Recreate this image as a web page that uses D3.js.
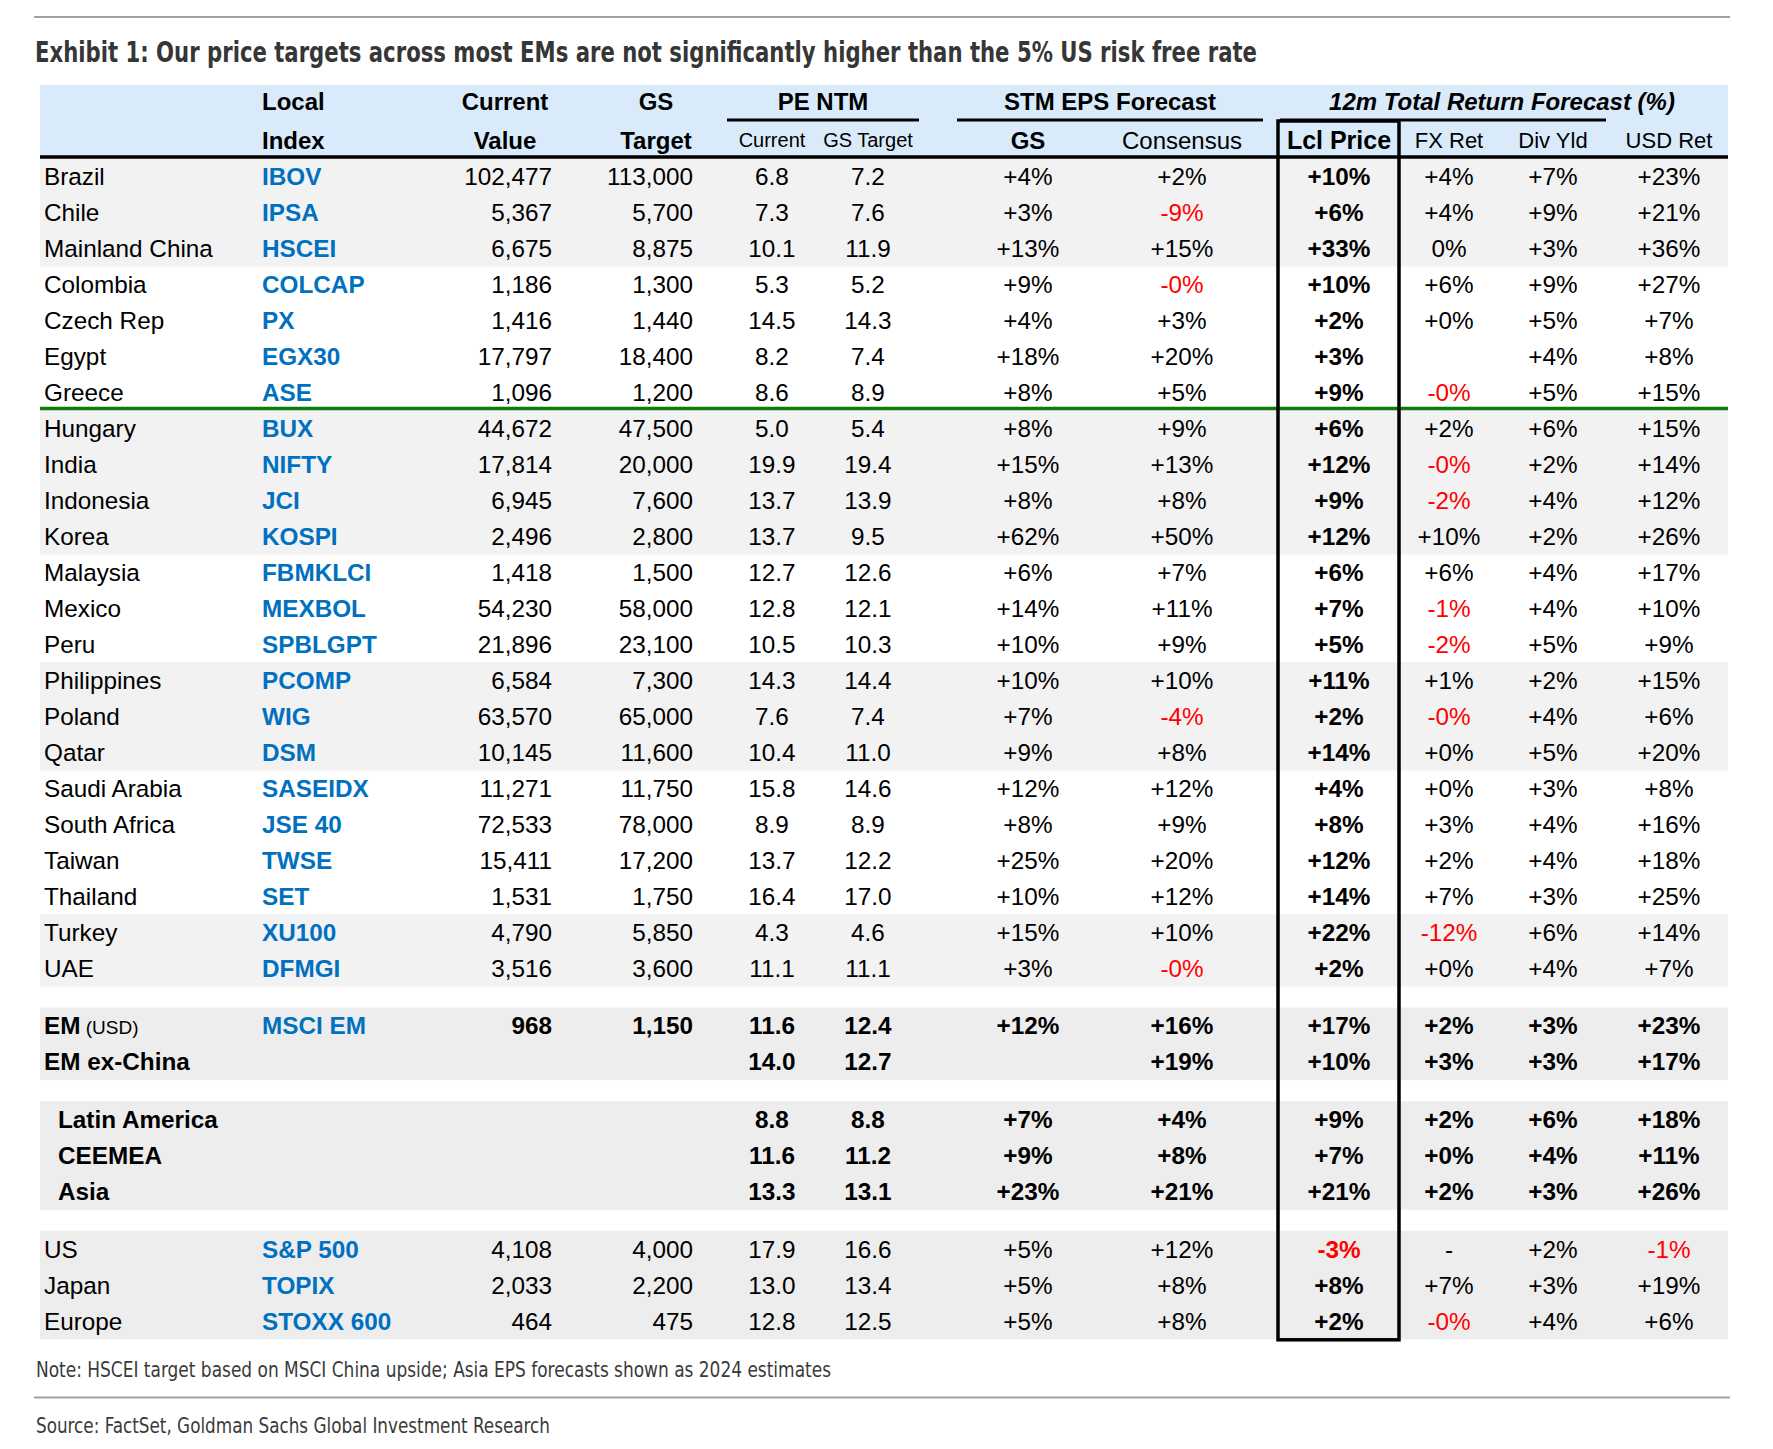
<!DOCTYPE html>
<html><head><meta charset="utf-8">
<script src="https://cdn.jsdelivr.net/npm/d3@7"></script>
<style>
body{margin:0;background:#fff}
svg text{font-family:"Liberation Sans",Arial,"Helvetica",sans-serif;fill:#000}
.cond{font-family:"Liberation Sans Narrow","Arial Narrow","DejaVu Sans Condensed","Liberation Sans",sans-serif !important}
</style>
</head><body>
<svg id="c" width="1773" height="1449"></svg>
<script>
// ---------- DATA ----------
const titleText = "Exhibit 1: Our price targets across most EMs are not significantly higher than the 5% US risk free rate";
const noteText = "Note: HSCEI target based on MSCI China upside; Asia EPS forecasts shown as 2024 estimates";
const sourceText = "Source: FactSet, Goldman Sachs Global Investment Research";

const countries = ["Brazil","Chile","Mainland China","Colombia","Czech Rep","Egypt","Greece","Hungary","India","Indonesia","Korea","Malaysia","Mexico","Peru","Philippines","Poland","Qatar","Saudi Arabia","South Africa","Taiwan","Thailand","Turkey","UAE"];
const indices = ["IBOV","IPSA","HSCEI","COLCAP","PX","EGX30","ASE","BUX","NIFTY","JCI","KOSPI","FBMKLCI","MEXBOL","SPBLGPT","PCOMP","WIG","DSM","SASEIDX","JSE 40","TWSE","SET","XU100","DFMGI"];
const currentValue = ["102,477","5,367","6,675","1,186","1,416","17,797","1,096","44,672","17,814","6,945","2,496","1,418","54,230","21,896","6,584","63,570","10,145","11,271","72,533","15,411","1,531","4,790","3,516"];
const gsTarget = ["113,000","5,700","8,875","1,300","1,440","18,400","1,200","47,500","20,000","7,600","2,800","1,500","58,000","23,100","7,300","65,000","11,600","11,750","78,000","17,200","1,750","5,850","3,600"];
const peCurrent = ["6.8","7.3","10.1","5.3","14.5","8.2","8.6","5.0","19.9","13.7","13.7","12.7","12.8","10.5","14.3","7.6","10.4","15.8","8.9","13.7","16.4","4.3","11.1"];
const peTarget = ["7.2","7.6","11.9","5.2","14.3","7.4","8.9","5.4","19.4","13.9","9.5","12.6","12.1","10.3","14.4","7.4","11.0","14.6","8.9","12.2","17.0","4.6","11.1"];
const epsGS = ["+4%","+3%","+13%","+9%","+4%","+18%","+8%","+8%","+15%","+8%","+62%","+6%","+14%","+10%","+10%","+7%","+9%","+12%","+8%","+25%","+10%","+15%","+3%"];
const epsCons = ["+2%","-9%","+15%","-0%","+3%","+20%","+5%","+9%","+13%","+8%","+50%","+7%","+11%","+9%","+10%","-4%","+8%","+12%","+9%","+20%","+12%","+10%","-0%"];
const lclPrice = ["+10%","+6%","+33%","+10%","+2%","+3%","+9%","+6%","+12%","+9%","+12%","+6%","+7%","+5%","+11%","+2%","+14%","+4%","+8%","+12%","+14%","+22%","+2%"];
const fxRet = ["+4%","+4%","0%","+6%","+0%","","-0%","+2%","-0%","-2%","+10%","+6%","-1%","-2%","+1%","-0%","+0%","+0%","+3%","+2%","+7%","-12%","+0%"];
const divYld = ["+7%","+9%","+3%","+9%","+5%","+4%","+5%","+6%","+2%","+4%","+2%","+4%","+4%","+5%","+2%","+4%","+5%","+3%","+4%","+4%","+3%","+6%","+4%"];
const usdRet = ["+23%","+21%","+36%","+27%","+7%","+8%","+15%","+15%","+14%","+12%","+26%","+17%","+10%","+9%","+15%","+6%","+20%","+8%","+16%","+18%","+25%","+14%","+7%"];
// alternating shading groups of countries (row counts)
const bandGroups = [3,4,4,3,3,4,2];

// summary blocks
const emNames = ["EM","EM ex-China"];
const emIndex = ["MSCI EM",""];
const emCur = ["968",""];
const emTgt = ["1,150",""];
const emPeC = ["11.6","14.0"];
const emPeT = ["12.4","12.7"];
const emEpsGS = ["+12%",""];
const emEpsCons = ["+16%","+19%"];
const emLcl = ["+17%","+10%"];
const emFx = ["+2%","+3%"];
const emDiv = ["+3%","+3%"];
const emUsd = ["+23%","+17%"];

const regNames = ["Latin America","CEEMEA","Asia"];
const regPeC = ["8.8","11.6","13.3"];
const regPeT = ["8.8","11.2","13.1"];
const regEpsGS = ["+7%","+9%","+23%"];
const regEpsCons = ["+4%","+8%","+21%"];
const regLcl = ["+9%","+7%","+21%"];
const regFx = ["+2%","+0%","+2%"];
const regDiv = ["+6%","+4%","+3%"];
const regUsd = ["+18%","+11%","+26%"];

const dmNames = ["US","Japan","Europe"];
const dmIndex = ["S&P 500","TOPIX","STOXX 600"];
const dmCur = ["4,108","2,033","464"];
const dmTgt = ["4,000","2,200","475"];
const dmPeC = ["17.9","13.0","12.8"];
const dmPeT = ["16.6","13.4","12.5"];
const dmEpsGS = ["+5%","+5%","+5%"];
const dmEpsCons = ["+12%","+8%","+8%"];
const dmLcl = ["-3%","+8%","+2%"];
const dmFx = ["-","+7%","-0%"];
const dmDiv = ["+2%","+3%","+4%"];
const dmUsd = ["-1%","+19%","+6%"];

const colKeys = ["name","idx","cur","tgt","peC","peT","epsGS","epsCons","lcl","fx","div","usd"];

// ---------- LAYOUT ----------
const svg = d3.select("#c");
const xCol = d3.scaleOrdinal().domain(colKeys).range([44,262,552,693,772,868,1028,1182,1339,1449,1553,1669]);
const anchorCol = d3.scaleOrdinal().domain(colKeys).range(["start","start","end","end","middle","middle","middle","middle","middle","middle","middle","middle"]);
const y = d3.scaleLinear().domain([0,1]).range([176,212]);   // row slot -> row centre
const rowH = y(1)-y(0);
const tableL = 40, tableR = 1728;
const BLUE = "#0070c0", RED = "#ff0000";

// build row records
const rows = [];
let slot = 0, g = 0, gi = 0;
countries.forEach((c,i)=>{
  rows.push({slot:i, shade: g%2===0 ? "#f2f2f2" : null, bold:false, indent:0,
    vals:{name:c, idx:indices[i], cur:currentValue[i], tgt:gsTarget[i], peC:peCurrent[i], peT:peTarget[i],
      epsGS:epsGS[i], epsCons:epsCons[i], lcl:lclPrice[i], fx:fxRet[i], div:divYld[i], usd:usdRet[i]}});
  gi++; if(gi===bandGroups[g]){g++;gi=0;}
});
slot = countries.length - 1 + 1.6;
emNames.forEach((n,i)=>{
  rows.push({slot:slot+i, shade:"#ededed", bold:true, indent:0, em:i===0,
    vals:{name:n, idx:emIndex[i], cur:emCur[i], tgt:emTgt[i], peC:emPeC[i], peT:emPeT[i], epsGS:emEpsGS[i], epsCons:emEpsCons[i], lcl:emLcl[i], fx:emFx[i], div:emDiv[i], usd:emUsd[i]}});
});
slot += emNames.length - 1 + 1.6;
regNames.forEach((n,i)=>{
  rows.push({slot:slot+i, shade:"#ededed", bold:true, indent:14,
    vals:{name:n, idx:"", cur:"", tgt:"", peC:regPeC[i], peT:regPeT[i], epsGS:regEpsGS[i], epsCons:regEpsCons[i], lcl:regLcl[i], fx:regFx[i], div:regDiv[i], usd:regUsd[i]}});
});
slot += regNames.length - 1 + 1.6;
dmNames.forEach((n,i)=>{
  rows.push({slot:slot+i, shade:"#ededed", bold:false, indent:0,
    vals:{name:n, idx:dmIndex[i], cur:dmCur[i], tgt:dmTgt[i], peC:dmPeC[i], peT:dmPeT[i], epsGS:dmEpsGS[i], epsCons:dmEpsCons[i], lcl:dmLcl[i], fx:dmFx[i], div:dmDiv[i], usd:dmUsd[i]}});
});

// ---------- DRAW ----------
svg.append("line").attr("x1",34).attr("x2",1730).attr("y1",17).attr("y2",17).attr("stroke","#a0a0a0").attr("stroke-width",2);
svg.append("text").attr("class","cond").attr("x",35).attr("y",62).attr("font-size",29).attr("font-weight","bold")
  .style("fill","#363636").attr("textLength",1222).attr("lengthAdjust","spacingAndGlyphs").text(titleText);

svg.append("rect").attr("x",tableL).attr("y",85).attr("width",tableR-tableL).attr("height",72).attr("fill","#d9ebfb");

svg.selectAll("rect.band").data(rows.filter(r=>r.shade)).join("rect").attr("class","band")
  .attr("x",tableL).attr("width",tableR-tableL)
  .attr("y",r=>y(r.slot)-rowH/2).attr("height",rowH+0.6).attr("fill",r=>r.shade);

const h1 = [
  {t:"Local",x:262,a:"start"},{t:"Current",x:505,a:"middle"},{t:"GS",x:656,a:"middle"},
  {t:"PE NTM",x:823,a:"middle"},{t:"STM EPS Forecast",x:1110,a:"middle"},{t:"12m Total Return Forecast (%)",x:1502,a:"middle",it:true}
];
svg.selectAll("text.h1").data(h1).join("text").attr("class","h1")
  .attr("x",d=>d.x).attr("y",101).attr("dy","0.36em").attr("text-anchor",d=>d.a)
  .attr("font-size",24).attr("font-weight","bold").attr("font-style",d=>d.it?"italic":"normal").text(d=>d.t);
const h2 = [
  {t:"Index",x:262,a:"start",b:1,s:24},{t:"Value",x:505,a:"middle",b:1,s:24},{t:"Target",x:656,a:"middle",b:1,s:24},
  {t:"Current",x:xCol("peC"),a:"middle",b:0,s:20},{t:"GS Target",x:xCol("peT"),a:"middle",b:0,s:20},
  {t:"GS",x:xCol("epsGS"),a:"middle",b:1,s:24},{t:"Consensus",x:xCol("epsCons"),a:"middle",b:0,s:24},
  {t:"Lcl Price",x:xCol("lcl"),a:"middle",b:1,s:25},{t:"FX Ret",x:xCol("fx"),a:"middle",b:0,s:22},
  {t:"Div Yld",x:xCol("div"),a:"middle",b:0,s:22},{t:"USD Ret",x:xCol("usd"),a:"middle",b:0,s:22}
];
svg.selectAll("text.h2").data(h2).join("text").attr("class","h2")
  .attr("x",d=>d.x).attr("y",140).attr("dy","0.36em").attr("text-anchor",d=>d.a)
  .attr("font-size",d=>d.s).attr("font-weight",d=>d.b?"bold":"normal").text(d=>d.t);

const ul = [[727,919],[957,1263],[1280,1606]];
svg.selectAll("line.ul").data(ul).join("line").attr("class","ul")
  .attr("x1",d=>d[0]).attr("x2",d=>d[1]).attr("y1",120).attr("y2",120).attr("stroke","#000").attr("stroke-width",3);

svg.append("line").attr("x1",tableL).attr("x2",tableR).attr("y1",157).attr("y2",157).attr("stroke","#000").attr("stroke-width",3.5);
svg.append("line").attr("x1",tableL).attr("x2",tableR).attr("y1",y(6.5)-1.5).attr("y2",y(6.5)-1.5).attr("stroke","#0a7d0a").attr("stroke-width",3.5);

const cells = [];
rows.forEach(r=>{
  colKeys.forEach(k=>{
    const v = r.vals[k];
    if(v===undefined || v==="") return;
    cells.push({r, k, v});
  });
});
svg.selectAll("text.cell").data(cells).join("text").attr("class","cell")
  .attr("x",d=> xCol(d.k) + (d.k==="name" ? d.r.indent : 0))
  .attr("y",d=>y(d.r.slot)).attr("dy","0.36em")
  .attr("text-anchor",d=>anchorCol(d.k))
  .attr("font-size",24.3)
  .attr("font-weight",d=> (d.r.bold || d.k==="lcl" || d.k==="idx") ? "bold" : "normal")
  .style("fill",d=> d.k==="idx" ? BLUE : (d.v.length>1 && d.v[0]==="-" ? RED : "#000"))
  .each(function(d){
    const t = d3.select(this);
    if(d.k==="name" && d.r.em){
      t.append("tspan").text(d.v);
      t.append("tspan").attr("font-weight","normal").attr("font-size",19).text(" (USD)");
    } else t.text(d.v);
  });

const boxBottom = y(rows[rows.length-1].slot)+rowH/2;
svg.append("rect").attr("x",1278).attr("y",121).attr("width",121).attr("height",boxBottom-121+1)
  .attr("fill","none").attr("stroke","#000").attr("stroke-width",3.5);

svg.append("text").attr("class","cond").attr("x",36).attr("y",1377).attr("font-size",22)
  .style("fill","#3a3a3a").attr("textLength",795).attr("lengthAdjust","spacingAndGlyphs").text(noteText);
svg.append("line").attr("x1",34).attr("x2",1730).attr("y1",1397.5).attr("y2",1397.5).attr("stroke","#a0a0a0").attr("stroke-width",2);
svg.append("text").attr("class","cond").attr("x",36).attr("y",1433).attr("font-size",22)
  .style("fill","#3a3a3a").attr("textLength",514).attr("lengthAdjust","spacingAndGlyphs").text(sourceText);
</script>
</body></html>
